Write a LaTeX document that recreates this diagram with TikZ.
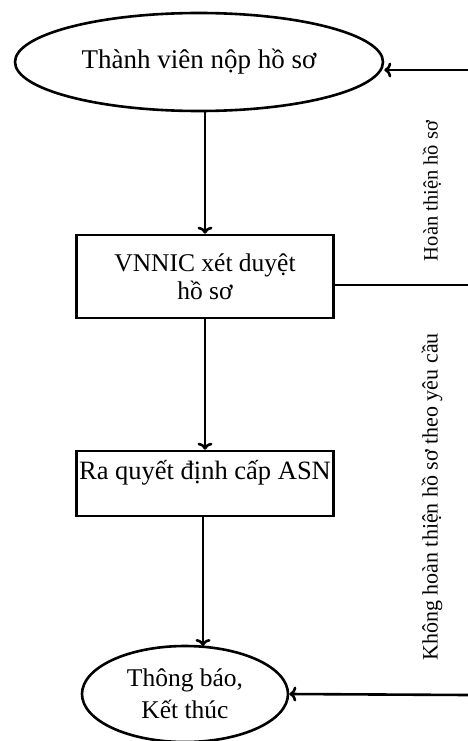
\documentclass[tikz,border=0pt]{standalone}
\usepackage{fontspec}
\setmainfont{Liberation Serif}
\usetikzlibrary{shapes.geometric, positioning, arrows, arrows.meta}

\begin{document}
\begin{tikzpicture}[x=1pt,y=-1pt]
  \tikzset{
    startend/.style={
      draw,
      ellipse,
      line width=2.6pt,
      inner sep=0pt,
      align=center
    },
    process/.style={
      draw,
      rectangle,
      line width=2.6pt,
      minimum width=257pt,
      inner sep=0pt,
      align=center
    },
    flow/.style={
      line width=2.6pt,
      -{To[length=7pt,width=15pt]}
    },
    sidelabel/.style={
      rotate=90
    }
  }
  \useasboundingbox (0,0) rectangle (468,741);

  % Process steps
  \node[startend, minimum width=368pt, minimum height=98pt,
        font=\fontsize{27}{30}\selectfont] at (199,62) (submit) {Thành viên nộp hồ sơ};
  \node[process, minimum height=83pt,
        font=\fontsize{25.5}{28}\selectfont] at (205,276.5) (review) {VNNIC xét duyệt\\hồ sơ};
  \node[process, minimum height=65pt, text depth=28pt,
        font=\fontsize{26.5}{28}\selectfont] at (205,483.5) (decide) {Ra quyết định cấp ASN};
  \node[startend, minimum width=206pt, minimum height=96pt,
        font=\fontsize{25.5}{32}\selectfont] at (185,694) (notify) {Thông báo,\\Kết thúc};

  % Return branch at the right edge
  \coordinate (backtop) at (468,70);
  \coordinate (branch) at (468,285);
  \coordinate (backbot) at (468,695);

  % Connectors
  \draw[flow] (submit.south -| review.north) -- (review.north);
  \draw[flow] (review.south) -- (review.south |- decide.north);
  \draw[flow] (decide.south -| 203,0) -- (203,646);
  \draw[flow] (backtop) -- (backtop -| submit.east);
  \draw[line width=2.6pt] (review.east |- branch) -- (branch);
  \draw[flow] (backbot) -- (notify.east);

  % Labels
  \node[sidelabel, font=\fontsize{20.5}{22}\selectfont] at (432,191) (lblfix) {Hoàn thiện hồ sơ};
  \node[sidelabel, font=\fontsize{22}{24}\selectfont] at (432,497) (lblnofix) {Không hoàn thiện hồ sơ theo yêu cầu};
\end{tikzpicture}
\end{document}
